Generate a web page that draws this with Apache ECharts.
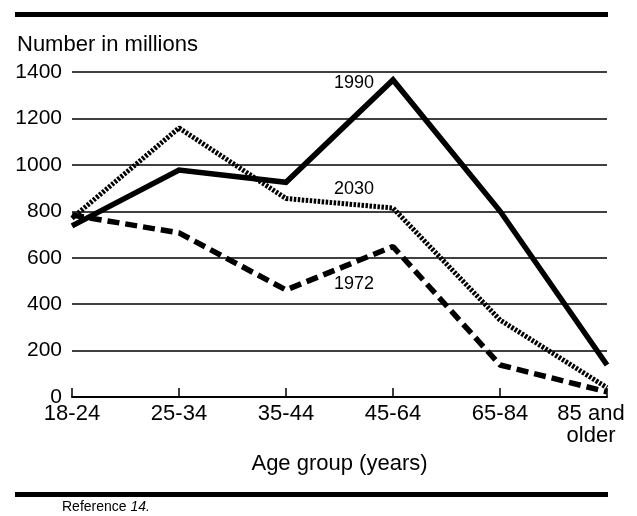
<!DOCTYPE html>
<html>
<head>
<meta charset="utf-8">
<script src="https://cdn.jsdelivr.net/npm/echarts@6/dist/echarts.min.js"></script>
<style>
  html, body { margin: 0; padding: 0; background: #fff; }
  #chart { width: 637px; height: 516px; }
</style>
</head>
<body>
<div id="chart"></div>
<script>
// age groups on the x axis
const ageGroups = ["18-24", "25-34", "35-44", "45-64", "65-84", "85 and\nolder"];
// values in millions
const pop1990 = [737, 978, 925, 1366, 801, 138];
const pop2030 = [770, 1159, 855, 814, 332, 40];
const pop1972 = [784, 707, 461, 648, 138, 22];
const yTicks = [0, 200, 400, 600, 800, 1000, 1200, 1400];

const font = "Liberation Sans, Arial, Helvetica, sans-serif";

const chart = echarts.init(document.getElementById("chart"));

chart.setOption({
  animation: false,
  backgroundColor: "#fff",
  grid: { left: 72, right: 30, top: 72, bottom: 119, outerBoundsMode: "none", containLabel: false },
  xAxis: {
    type: "category",
    boundaryGap: false,
    data: ageGroups.map((g, i) =>
      i === ageGroups.length - 1
        ? { value: g, textStyle: { padding: [0, 32, 0, 0] } }
        : g
    ),
    name: "Age group (years)",
    nameLocation: "middle",
    nameGap: 56,
    nameTextStyle: { color: "#000", fontSize: 22, fontFamily: font },
    axisLine: { lineStyle: { color: "#000", width: 2 } },
    axisTick: { inside: true, length: 9, lineStyle: { color: "#000", width: 1.5 } },
    axisLabel: { color: "#000", fontSize: 22, fontFamily: font, margin: 6, interval: 0, lineHeight: 22 },
  },
  yAxis: {
    type: "value",
    min: 0,
    max: 1400,
    interval: 200,
    axisLine: { show: false },
    axisTick: { show: false },
    axisLabel: {
      color: "#000",
      fontSize: 21,
      fontFamily: font,
      margin: 10,
      formatter: (v) => (yTicks.includes(v) ? String(v) : ""),
    },
    splitLine: { lineStyle: { color: "#000", width: 1.5 } },
  },
  series: [
    {
      name: "1990",
      type: "line",
      data: pop1990,
      symbol: "none",
      lineStyle: { color: "#000", width: 5.5, join: "miter" },
    },
    {
      name: "2030",
      type: "line",
      data: pop2030,
      symbol: "none",
      lineStyle: { color: "#000", width: 5, type: [2.5, 1.5] },
    },
    {
      name: "1972",
      type: "line",
      data: pop1972,
      symbol: "none",
      lineStyle: { color: "#000", width: 5.5, type: [12, 6] },
    },
  ],
  graphic: [
    // top and bottom heavy rules
    { type: "rect", shape: { x: 15, y: 12, width: 593, height: 5 }, style: { fill: "#000" } },
    { type: "rect", shape: { x: 15, y: 492, width: 593, height: 5 }, style: { fill: "#000" } },
    {
      type: "text", left: 17, top: 34,
      style: { text: "Number in millions", fill: "#000", font: "22px " + font },
    },
    {
      type: "text", left: 334, top: 74,
      style: { text: "1990", fill: "#000", font: "18px " + font },
    },
    {
      type: "text", left: 334, top: 180,
      style: { text: "2030", fill: "#000", font: "18px " + font },
    },
    {
      type: "text", left: 334, top: 275,
      style: { text: "1972", fill: "#000", font: "18px " + font },
    },
    {
      type: "text", left: 62, top: 500,
      style: {
        text: "{a|Reference }{b|14.}",
        rich: {
          a: { fill: "#000", font: "14px " + font },
          b: { fill: "#000", font: "italic 14px " + font },
        },
      },
    },
  ],
});
</script>
</body>
</html>
